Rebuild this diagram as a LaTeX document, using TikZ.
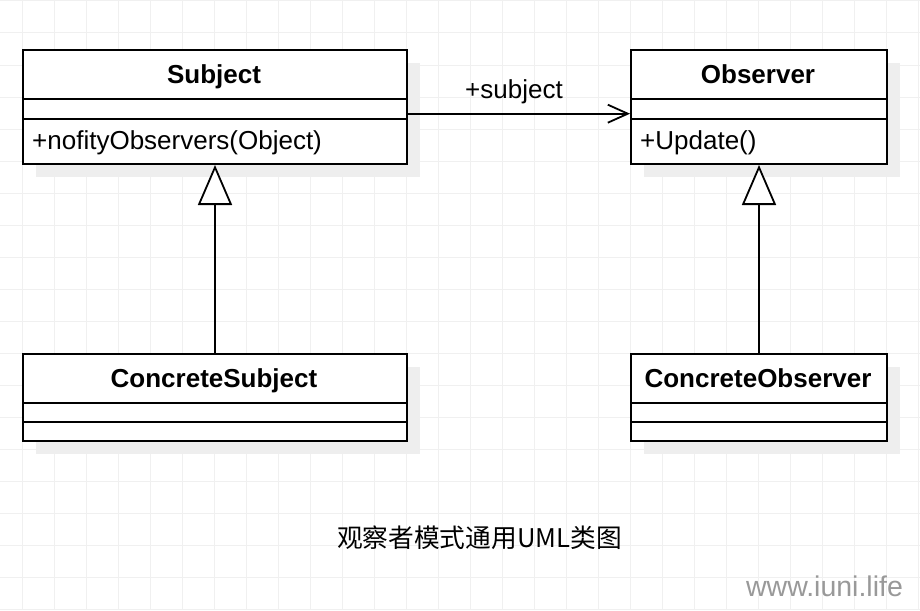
\documentclass[tikz,border=0pt]{standalone}
\usepackage{fontspec}
\setmainfont{Liberation Sans}
\newfontfamily\cjk{Noto Sans CJK SC}
\usetikzlibrary{arrows.meta}
\definecolor{gridc}{HTML}{F0F0F0}
\definecolor{shadowc}{HTML}{EEEEEE}
\definecolor{markc}{HTML}{999999}
\tikzset{
  classbox/.style={draw=black, line width=2pt, fill=white, rectangle, inner sep=0pt, anchor=north west},
  sep/.style={draw=black, line width=2pt},
  shadowbox/.style={fill=shadowc},
  titletext/.style={font=\fontsize{26}{30}\selectfont\bfseries, anchor=base, inner sep=0pt},
  membertext/.style={font=\fontsize{26}{30}\selectfont, anchor=base west, inner sep=0pt},
  gridline/.style={draw=gridc, line width=1pt},
  assoc/.style={draw=black, line width=1.8pt, -{Straight Barb[length=20pt,width=18pt,line width=1.8pt]}},
  inherit/.style={draw=black, line width=1.8pt, -{Triangle[length=40pt,width=34pt,fill=white,line width=1.8pt]}},
}
\begin{document}
\begin{tikzpicture}[x=1pt,y=-1pt]
\useasboundingbox[fill=white] (0,0) rectangle (920,610);
% grid
\foreach \x in {22.5,54.5,...,918.5} \draw[gridline] (\x,0) -- (\x,610);
\foreach \y in {1,33,...,609} \draw[gridline] (0,\y) -- (920,\y);
% shadows
\fill[shadowbox] (36,63) rectangle (420,177);
\fill[shadowbox] (644,63) rectangle (900,177);
\fill[shadowbox] (36,367) rectangle (420,454);
\fill[shadowbox] (644,367) rectangle (900,454);
% class boxes
\node[classbox, minimum width=384pt, minimum height=114pt] (subject) at (22,49) {};
\node[classbox, minimum width=256pt, minimum height=114pt] (observer) at (630,49) {};
\node[classbox, minimum width=384pt, minimum height=87pt] (csubject) at (22,353) {};
\node[classbox, minimum width=256pt, minimum height=87pt] (cobserver) at (630,353) {};
% compartments
\draw[sep] ([yshift=-50pt]subject.north west) -- ([yshift=-50pt]subject.north east);
\draw[sep] ([yshift=-70pt]subject.north west) -- ([yshift=-70pt]subject.north east);
\draw[sep] ([yshift=-50pt]observer.north west) -- ([yshift=-50pt]observer.north east);
\draw[sep] ([yshift=-70pt]observer.north west) -- ([yshift=-70pt]observer.north east);
\draw[sep] ([yshift=-50pt]csubject.north west) -- ([yshift=-50pt]csubject.north east);
\draw[sep] ([yshift=-69pt]csubject.north west) -- ([yshift=-69pt]csubject.north east);
\draw[sep] ([yshift=-50pt]cobserver.north west) -- ([yshift=-50pt]cobserver.north east);
\draw[sep] ([yshift=-69pt]cobserver.north west) -- ([yshift=-69pt]cobserver.north east);
% texts
\node[titletext] (subjectT) at (214,83.5) {Subject};
\node[titletext] (observerT) at (758,83.5) {Observer};
\node[titletext] (csubjectT) at (214,387) {ConcreteSubject};
\node[titletext] (cobserverT) at (758,387) {ConcreteObserver};
\node[membertext] (subjectM) at (32,149) {+nofityObservers(Object)};
\node[membertext] (observerM) at (640,149) {+Update()};
% connectors
\draw[assoc] ([yshift=-6.7pt]subject.east) -- ([yshift=-6.7pt]observer.west);
\node[font=\fontsize{26}{30}\selectfont, anchor=base, inner sep=0pt] (assocL) at (514,98) {+subject};
\draw[inherit] (csubject.north) -- (subject.south);
\draw[inherit] (cobserver.north) -- (observer.south);
% caption and watermark
\node[font=\cjk\fontsize{25.7}{30}\selectfont, anchor=base, inner sep=0pt] (caption) at (479.5,547.5) {观察者模式通用UML类图};
\node[font=\fontsize{28.5}{32}\selectfont, text=markc, anchor=base, inner sep=0pt] (mark) at (824.5,596) {www.iuni.life};
\end{tikzpicture}
\end{document}
